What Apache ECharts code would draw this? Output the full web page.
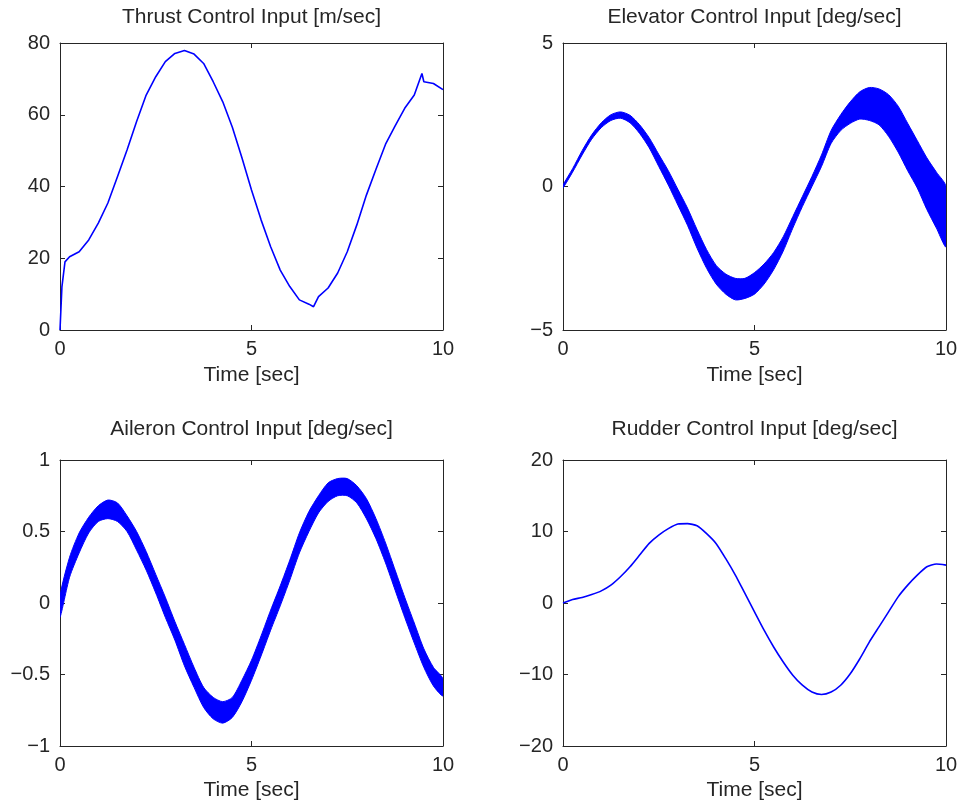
<!DOCTYPE html>
<html>
<head>
<meta charset="utf-8">
<script src="https://cdn.jsdelivr.net/npm/echarts@6/dist/echarts.min.js"></script>
<style>html,body{margin:0;padding:0;background:#fff}#c{width:962px;height:805px}</style>
</head>
<body>
<div id="c"></div>
<script>
// ---- data ----
const titles = ['Thrust Control Input [m/sec]', 'Elevator Control Input [deg/sec]', 'Aileron Control Input [deg/sec]', 'Rudder Control Input [deg/sec]'];
const xLabel = 'Time [sec]';

const thrustTime = [0,0.05,0.13,0.25,0.5,0.75,1,1.25,1.5,1.75,2,2.25,2.5,2.75,3,3.25,3.5,3.75,4,4.25,4.5,4.75,5,5.25,5.5,5.75,6,6.25,6.5,6.62,6.75,7,7.25,7.5,7.75,8,8.25,8.5,8.75,9,9.25,9.45,9.5,9.75,10];
const thrust = [0,12,19,20.4,21.8,25.1,29.8,35.4,42.7,50.2,58.1,65.5,70.6,74.8,77.1,77.9,76.9,74.3,69.2,63.6,56.5,48,39,30.7,23.2,16.7,12.1,8.4,7.2,6.5,9.3,11.7,15.9,21.8,29.3,37.6,44.8,51.8,56.9,61.8,65.5,71.5,69.2,68.7,67];

const time = [0,0.25,0.5,0.75,1,1.25,1.5,1.75,2,2.25,2.5,2.75,3,3.25,3.5,3.75,4,4.25,4.5,4.75,5,5.25,5.5,5.75,6,6.25,6.5,6.75,7,7.25,7.5,7.75,8,8.25,8.5,8.75,9,9.25,9.5,9.75,10];

const elevatorUpper = [0.05,0.62,1.25,1.8,2.22,2.5,2.6,2.48,2.15,1.7,1.12,0.55,-0.1,-0.75,-1.5,-2.2,-2.75,-3.05,-3.2,-3.2,-3.0,-2.7,-2.3,-1.75,-1.05,-0.35,0.35,1.1,1.95,2.5,2.95,3.3,3.45,3.4,3.2,2.8,2.2,1.6,1.0,0.5,0.0];
const elevatorLower = [-0.05,0.5,1.1,1.65,2.05,2.3,2.38,2.22,1.85,1.35,0.7,0.05,-0.65,-1.35,-2.15,-2.85,-3.4,-3.75,-3.95,-3.9,-3.75,-3.4,-2.9,-2.25,-1.45,-0.7,0.0,0.7,1.5,1.95,2.2,2.35,2.3,2.15,1.75,1.2,0.55,-0.05,-0.8,-1.45,-2.1];

const aileronUpper = [0.05,0.32,0.49,0.6,0.68,0.72,0.7,0.61,0.5,0.36,0.2,0.04,-0.13,-0.29,-0.45,-0.59,-0.66,-0.69,-0.66,-0.54,-0.4,-0.23,-0.05,0.12,0.3,0.49,0.64,0.75,0.84,0.87,0.87,0.82,0.73,0.59,0.42,0.23,0.04,-0.14,-0.32,-0.45,-0.53];
const aileronLower = [-0.1,0.18,0.35,0.49,0.57,0.59,0.57,0.5,0.37,0.23,0.07,-0.1,-0.26,-0.44,-0.59,-0.73,-0.81,-0.84,-0.8,-0.69,-0.54,-0.37,-0.19,-0.02,0.16,0.35,0.5,0.63,0.71,0.75,0.75,0.7,0.59,0.45,0.28,0.09,-0.1,-0.28,-0.45,-0.58,-0.65];

const rudder = [0,0.5,0.77,1.19,1.7,2.5,3.67,5.07,6.7,8.34,9.5,10.4,11.05,11.1,10.8,9.7,8.3,6.2,3.9,1.33,-1.24,-3.8,-6.15,-8.25,-10.1,-11.5,-12.45,-12.8,-12.45,-11.5,-9.9,-7.8,-5.44,-3.34,-1.24,0.86,2.5,3.9,5.07,5.45,5.3];

const yTicks = [
  {min: 0, max: 80, interval: 20},
  {min: -5, max: 5, interval: 5},
  {min: -1, max: 1, interval: 0.5},
  {min: -20, max: 20, interval: 10}
];
const xTicks = {min: 0, max: 10, interval: 5};

// ---- chart ----
const FONT = "'Liberation Sans', Arial, Helvetica, sans-serif";
const TXT = '#262626';
const BLUE = '#0000ff';
const FS = 21;
const FS_TICK = 20;

const grids = [
  {left: 60, top: 43, width: 383, height: 287},
  {left: 563, top: 43, width: 383, height: 287},
  {left: 60, top: 460, width: 383, height: 286},
  {left: 563, top: 460, width: 383, height: 286}
];

const pair = (xs, ys) => xs.map((x, i) => [x, ys[i]]);
const minusFmt = v => String(v).replace('-', '\u2212');

const axisLine = {show: true, onZero: false, lineStyle: {color: TXT, width: 1}};
const axisTick = {show: true, inside: true, length: 5, lineStyle: {color: TXT, width: 1}};

const xAxis = [], yAxis = [], title = [], series = [];
grids.forEach((g, i) => {
  xAxis.push({
    gridIndex: i, type: 'value', position: 'bottom', min: xTicks.min, max: xTicks.max, interval: xTicks.interval,
    axisLine, axisTick, splitLine: {show: false},
    axisLabel: {color: TXT, fontSize: FS_TICK, fontFamily: FONT, margin: 9},
    name: xLabel, nameLocation: 'middle', nameGap: i < 2 ? 35 : 34,
    nameTextStyle: {color: TXT, fontSize: FS, fontFamily: FONT}
  });
  xAxis.push({
    gridIndex: i, type: 'value', position: 'top', min: xTicks.min, max: xTicks.max, interval: xTicks.interval,
    axisLine, axisTick, splitLine: {show: false}, axisLabel: {show: false}
  });
  const yt = yTicks[i];
  yAxis.push({
    gridIndex: i, type: 'value', position: 'left', min: yt.min, max: yt.max, interval: yt.interval,
    axisLine, axisTick, splitLine: {show: false},
    axisLabel: {color: TXT, fontSize: FS_TICK, fontFamily: FONT, margin: 10, formatter: minusFmt}
  });
  yAxis.push({
    gridIndex: i, type: 'value', position: 'right', min: yt.min, max: yt.max, interval: yt.interval,
    axisLine, axisTick, splitLine: {show: false}, axisLabel: {show: false}
  });
  title.push({
    text: titles[i], left: g.left + g.width / 2, top: i < 2 ? 7 : 419, textAlign: 'center', padding: 0,
    textStyle: {color: TXT, fontSize: FS, fontWeight: 'normal', fontFamily: FONT}
  });
});

const lineBase = {type: 'line', showSymbol: false, symbol: 'none', animation: false, silent: true};

series.push(Object.assign({}, lineBase, {
  xAxisIndex: 0, yAxisIndex: 0, data: pair(thrustTime, thrust),
  lineStyle: {color: BLUE, width: 1.6}
}));
series.push(Object.assign({}, lineBase, {
  xAxisIndex: 6, yAxisIndex: 6, data: pair(time, rudder),
  lineStyle: {color: BLUE, width: 1.6}, smooth: 0.2
}));

// noisy signals drawn as a filled band between the read upper and lower envelopes
function band(ax, upper, lower) {
  series.push({
    type: 'custom', xAxisIndex: ax, yAxisIndex: ax, silent: true, animation: false, clip: true,
    data: time.map((t, k) => [t, lower[k], upper[k]]),
    encode: {x: 0, y: [1, 2]},
    renderItem: function (params, api) {
      if (params.dataIndex !== 0) return null;
      const top = time.map((t, k) => api.coord([t, upper[k]]));
      const bot = time.map((t, k) => api.coord([t, lower[k]])).reverse();
      return {
        type: 'polygon',
        shape: {points: top.concat(bot), smooth: 0.25},
        style: {fill: BLUE, stroke: BLUE, lineWidth: 1}
      };
    }
  });
}
band(2, elevatorUpper, elevatorLower);
band(4, aileronUpper, aileronLower);

const chart = echarts.init(document.getElementById('c'), null, {renderer: 'canvas'});
chart.setOption({
  backgroundColor: '#fff', animation: false,
  grid: grids.map(g => Object.assign({containLabel: false}, g)),
  title, xAxis, yAxis, series
});
</script>
</body>
</html>
